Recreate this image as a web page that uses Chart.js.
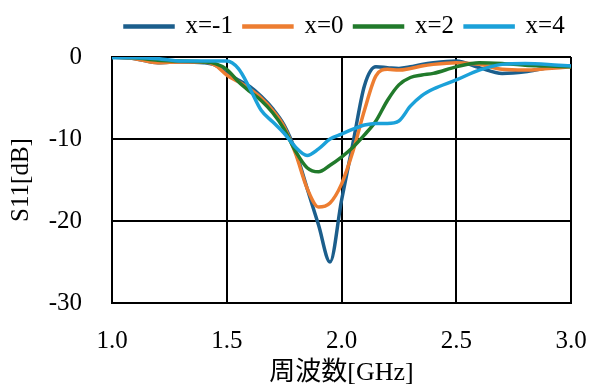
<!DOCTYPE html>
<html lang="ja">
<head>
    <meta charset="UTF-8">
    <title>S11</title>
    <script src="https://cdn.jsdelivr.net/npm/chart.js"></script>
    <style>
        html, body {
            margin: 0;
            padding: 0;
            background: #fff;
        }
        #wrap {
            width: 592px;
            height: 389px;
        }
    </style>
</head>
<body>
    <div id="wrap"><canvas id="s11Chart"></canvas></div>

    <script>
        // 周波数 [GHz]
        const freq = [1.0, 1.1, 1.2, 1.3, 1.4, 1.45, 1.5, 1.55, 1.6, 1.65, 1.7, 1.75, 1.8, 1.85, 1.9, 1.95,
                      2.0, 2.05, 2.1, 2.15, 2.2, 2.25, 2.3, 2.35, 2.4, 2.5, 2.6, 2.7, 2.8, 2.9, 3.0];

        const seriesNames = ['x=-1', 'x=0', 'x=2', 'x=4'];

        // S11 [dB]
        const s11_m1 = [0, -0.2, -0.7, -0.6, -0.7, -1.0, -2.0, -2.8, -3.6, -4.8, -6.3, -8.3, -11.5, -16.0, -20.5, -25.0,
                        -17.5, -10.5, -3.5, -1.2, -1.3, -1.4, -1.2, -0.9, -0.7, -0.5, -1.3, -2.0, -1.8, -1.3, -1.1];
        const s11_0 = [0, -0.2, -0.7, -0.6, -0.6, -1.0, -2.2, -3.0, -3.9, -5.0, -6.5, -8.5, -11.8, -16.0, -18.3, -17.8,
                       -15.5, -11.5, -6.5, -2.3, -1.5, -1.6, -1.4, -1.1, -0.9, -0.7, -0.9, -1.5, -1.6, -1.4, -1.2];
        const s11_2 = [0, -0.1, -0.4, -0.5, -0.6, -0.8, -1.5, -3.0, -4.2, -5.3, -6.8, -8.8, -11.5, -13.5, -14.0, -13.2,
                       -12.2, -11.0, -9.5, -7.8, -5.3, -3.4, -2.5, -2.2, -2.0, -1.2, -0.7, -0.8, -1.0, -1.1, -1.2];
        const s11_4 = [-0.1, -0.1, -0.2, -0.5, -0.5, -0.5, -0.5, -1.4, -3.8, -6.5, -7.9, -9.3, -11.0, -12.0, -11.2, -10.0,
                       -9.4, -8.8, -8.3, -8.1, -8.1, -7.8, -6.0, -4.7, -3.9, -2.8, -1.6, -0.9, -0.8, -0.9, -1.1];

        const colors = ['#1b5e8c', '#ed7d31', '#217a2b', '#1ba1d9'];
        const allSeries = [s11_m1, s11_0, s11_2, s11_4];

        const serif = "'Liberation Serif', 'Times New Roman', serif";

        const datasets = allSeries.map((vals, i) => ({
            label: seriesNames[i],
            data: vals.map((v, j) => ({ x: freq[j], y: v })),
            borderColor: colors[i],
            backgroundColor: colors[i],
            borderWidth: 3.5,
            pointRadius: 0,
            cubicInterpolationMode: 'monotone',
            order: allSeries.length - i
        }));

        // 凡例の高さと位置を固定
        const layoutFix = {
            id: 'layoutFix',
            beforeInit(chart) {
                const origFit = chart.legend.fit;
                chart.legend.fit = function () {
                    origFit.call(this);
                    this.height = 57;
                };
            },
            afterLayout(chart) {
                chart.legend.left = 114;
                chart.legend.right = 592;
                chart.legend.top = 3;
            }
        };

        const ctx = document.getElementById('s11Chart').getContext('2d');
        new Chart(ctx, {
            type: 'line',
            data: { datasets: datasets },
            plugins: [layoutFix],
            options: {
                responsive: true,
                maintainAspectRatio: false,
                animation: false,
                layout: { padding: { left: 0, right: 21, top: 0, bottom: 0 } },
                scales: {
                    x: {
                        type: 'linear',
                        min: 1,
                        max: 3,
                        ticks: {
                            stepSize: 0.5,
                            color: '#000',
                            font: { family: serif, size: 25 },
                            padding: 23,
                            callback: v => v.toFixed(1)
                        },
                        grid: { color: '#000', lineWidth: 2, drawTicks: false },
                        border: { color: '#000', width: 2 },
                        title: {
                            display: true,
                            text: '周波数[GHz]',
                            color: '#000',
                            font: { family: "'Liberation Serif', 'Noto Sans CJK JP', serif", size: 26 },
                            padding: { top: 0, bottom: 0 }
                        },
                        afterFit(scale) {
                            scale.height = 86;
                            scale.paddingLeft = 0;
                            scale.paddingRight = 0;
                        }
                    },
                    y: {
                        min: -30,
                        max: 0,
                        ticks: {
                            stepSize: 10,
                            color: '#000',
                            font: { family: serif, size: 25 },
                            padding: 30
                        },
                        grid: { color: '#000', lineWidth: 2, drawTicks: false },
                        border: { color: '#000', width: 2 },
                        title: {
                            display: true,
                            text: 'S11[dB]',
                            color: '#000',
                            font: { family: serif, size: 25 },
                            padding: { top: 6, bottom: 0 }
                        },
                        afterFit(scale) { scale.width = 112; }
                    }
                },
                plugins: {
                    legend: {
                        position: 'top',
                        align: 'start',
                        labels: {
                            color: '#000',
                            font: { family: serif, size: 25 },
                            boxWidth: 48,
                            boxHeight: 1,
                            padding: 11,
                            sort: (a, b) => a.datasetIndex - b.datasetIndex
                        }
                    },
                    tooltip: { enabled: false }
                }
            }
        });
    </script>
</body>
</html>
